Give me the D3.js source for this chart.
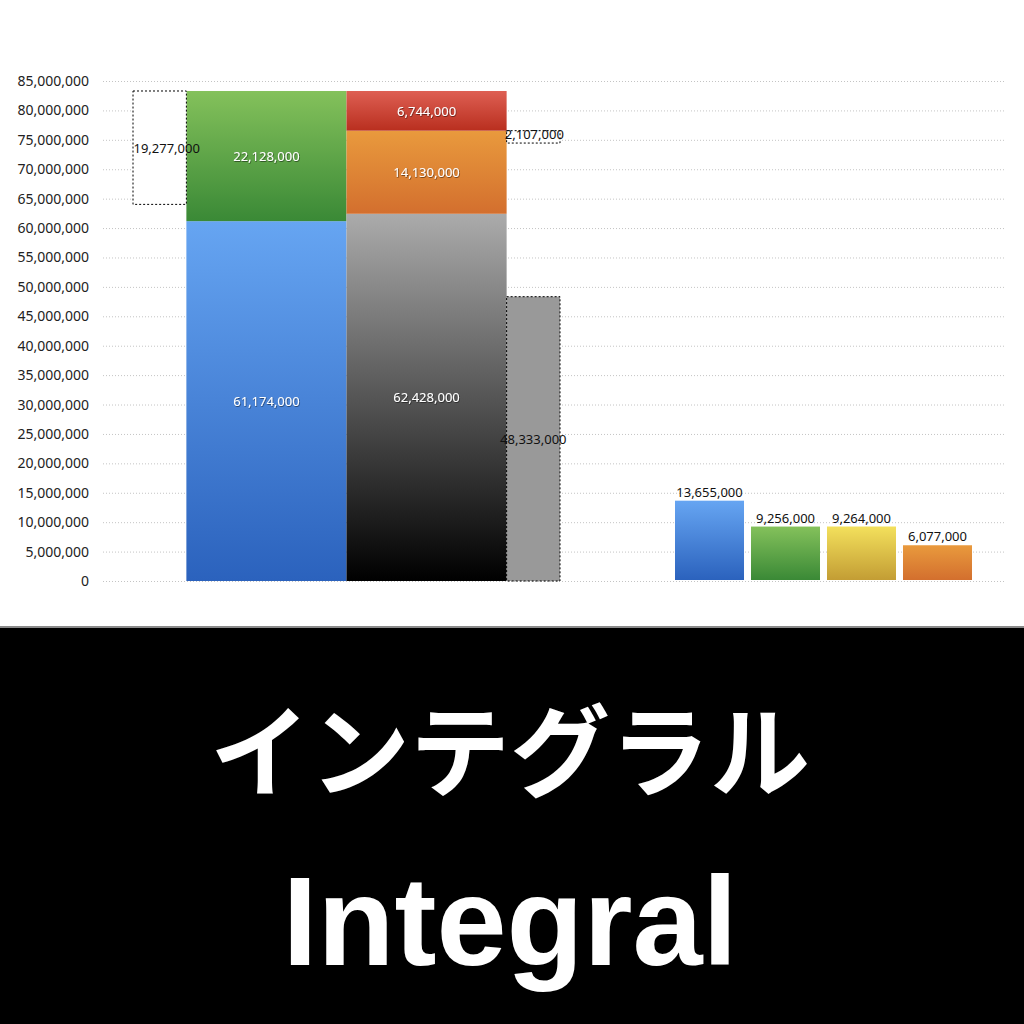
<!DOCTYPE html>
<html><head><meta charset="utf-8">
<script src="https://cdn.jsdelivr.net/npm/d3@7"></script>
<style>
html,body{margin:0;padding:0;background:#fff;}
svg{display:block;}
</style></head>
<body>
<script>
// ---- data ----
const yTicks = [0,5e6,10e6,15e6,20e6,25e6,30e6,35e6,40e6,45e6,50e6,55e6,60e6,65e6,70e6,75e6,80e6,85e6];
// stacked column A
const stackA = [
  {name:"A1", value:61174000, color:"blue"},
  {name:"A2", value:22128000, color:"green"}
];
// stacked column B
const stackB = [
  {name:"B1", value:62428000, color:"black"},
  {name:"B2", value:14130000, color:"orange"},
  {name:"B3", value:6744000,  color:"red"}
];
const diffLeft = 19277000;   // dashed box left of column A (hangs from top)
const diffRight = 2107000;   // dashed box right of column B (hangs from top of orange)
const grayBar = 48333000;    // dashed gray column
const smallCats = ["S1","S2","S3","S4"];
const smallVals = [13655000, 9256000, 9264000, 6077000];
const smallColors = ["blue","green","yellow","orange"];
const titleJa = "インテグラル";
const titleEn = "Integral";

const grads = {
  blue:["#66a5f2","#2b62bd"],
  green:["#84c15b","#3a8936"],
  black:["#ababab","#000000"],
  orange:["#e99a3d","#d36f2e"],
  red:["#de5f53","#b92f1f"],
  yellow:["#f3e05c","#c39d34"]
};

const W=1024,H=1024;
const svg = d3.select("body").append("svg").attr("width",W).attr("height",H);
const defs = svg.append("defs");
Object.entries(grads).forEach(([k,[a,b]])=>{
  const g = defs.append("linearGradient").attr("id","g-"+k).attr("x1",0).attr("y1",0).attr("x2",0).attr("y2",1);
  g.append("stop").attr("offset","0%").attr("stop-color",a);
  g.append("stop").attr("offset","100%").attr("stop-color",b);
});
const f = defs.append("filter").attr("id","shadow").attr("x","-10%").attr("y","-30%").attr("width","120%").attr("height","160%");
f.append("feDropShadow").attr("dx",0.6).attr("dy",0.8).attr("stdDeviation",0.4).attr("flood-color","#000").attr("flood-opacity",0.55);

const y = d3.scaleLinear().domain([0,85e6]).range([581,81]);
// left group: 8 unit slots (1 dashed, 3 column A, 3 column B, 1 dashed)
const xL = d3.scaleLinear().domain([0,8]).range([133,560]);
const xR = d3.scaleBand().domain(smallCats).range([675,972]).paddingInner(0.092).paddingOuter(0);

const FONT = "'Noto Sans','DejaVu Sans',sans-serif";
const fmt = d3.format(",");

// grid + y axis
const axis = d3.axisLeft(y).tickValues(yTicks).tickFormat(fmt).tickSize(-(1005-103)).tickPadding(14);
const ga = svg.append("g").attr("transform","translate(103,0)").call(axis);
ga.select(".domain").remove();
ga.selectAll(".tick line").attr("stroke","#c4c4c4").attr("stroke-width",1).attr("stroke-dasharray","1,2");
ga.selectAll(".tick text").attr("font-family",FONT).attr("font-size",14).attr("fill","#222").attr("x",-14);

const plot = svg.append("g");

function stackCol(data, x0, x1){
  let acc=0;
  data.forEach(d=>{
    const y0=acc, y1=acc+d.value; acc=y1;
    plot.append("rect").attr("x",x0).attr("width",x1-x0)
      .attr("y",y(y1)).attr("height",y(y0)-y(y1)).attr("fill","url(#g-"+d.color+")");
    plot.append("text").attr("x",(x0+x1)/2).attr("y",(y(y0)+y(y1))/2+5)
      .attr("text-anchor","middle").attr("font-family",FONT).attr("font-size",13)
      .attr("fill","#fff").attr("filter","url(#shadow)").text(fmt(d.value));
  });
  return acc;
}
const topA = stackCol(stackA, xL(1), xL(4));
const topB = stackCol(stackB, xL(4), xL(7));

// dashed box left (hangs from top of column A)
plot.append("rect").attr("x",xL(0)).attr("width",xL(1)-xL(0))
  .attr("y",y(topA)).attr("height",y(topA-diffLeft)-y(topA))
  .attr("fill","#fff").attr("stroke","#000").attr("stroke-width",1).attr("stroke-dasharray","2,2");
plot.append("text").attr("x",(xL(0)+xL(1))/2+7).attr("y",(y(topA)+y(topA-diffLeft))/2+5)
  .attr("text-anchor","middle").attr("font-family",FONT).attr("font-size",13).attr("fill","#111")
  .text(fmt(diffLeft));

// dashed box right (hangs from top of orange)
const orangeTop = stackB[0].value+stackB[1].value;
plot.append("rect").attr("x",xL(7)).attr("width",xL(8)-xL(7))
  .attr("y",y(orangeTop)).attr("height",y(orangeTop-diffRight)-y(orangeTop))
  .attr("fill","#fff").attr("stroke","#000").attr("stroke-width",1).attr("stroke-dasharray","2,2");
plot.append("text").attr("x",(xL(7)+xL(8))/2+1).attr("y",y(orangeTop)+8)
  .attr("text-anchor","middle").attr("font-family",FONT).attr("font-size",13).attr("fill","#111")
  .text(fmt(diffRight));

// gray dashed column
plot.append("rect").attr("x",xL(7)).attr("width",xL(8)-xL(7))
  .attr("y",y(grayBar)).attr("height",y(0)-y(grayBar))
  .attr("fill","#999").attr("stroke","#000").attr("stroke-width",1).attr("stroke-dasharray","2,2");
plot.append("text").attr("x",(xL(7)+xL(8))/2).attr("y",(y(0)+y(grayBar))/2+5)
  .attr("text-anchor","middle").attr("font-family",FONT).attr("font-size",13).attr("fill","#111")
  .text(fmt(grayBar));

// small bars
smallCats.forEach((c,i)=>{
  plot.append("rect").attr("x",xR(c)).attr("width",xR.bandwidth())
    .attr("y",y(smallVals[i])).attr("height",y(0)-y(smallVals[i])-1)
    .attr("fill","url(#g-"+smallColors[i]+")");
  plot.append("text").attr("x",xR(c)+xR.bandwidth()/2).attr("y",y(smallVals[i])-4)
    .attr("text-anchor","middle").attr("font-family",FONT).attr("font-size",13).attr("fill","#111")
    .text(fmt(smallVals[i]));
});

// bottom banner
svg.append("rect").attr("x",0).attr("y",626).attr("width",W).attr("height",2).attr("fill","#8a8a8a");
svg.append("rect").attr("x",0).attr("y",628).attr("width",W).attr("height",H-628).attr("fill","#000");
svg.append("text").attr("x",510).attr("y",789).attr("text-anchor","middle")
  .attr("font-family","'Noto Sans CJK JP',sans-serif").attr("font-weight",700).attr("font-size",100)
  .attr("fill","#fff").text(titleJa);
svg.append("text").attr("x",510).attr("y",965).attr("text-anchor","middle")
  .attr("font-family","'Liberation Sans',Arial,sans-serif").attr("font-weight",700).attr("font-size",126)
  .attr("fill","#fff").text(titleEn);
</script>
</body></html>
